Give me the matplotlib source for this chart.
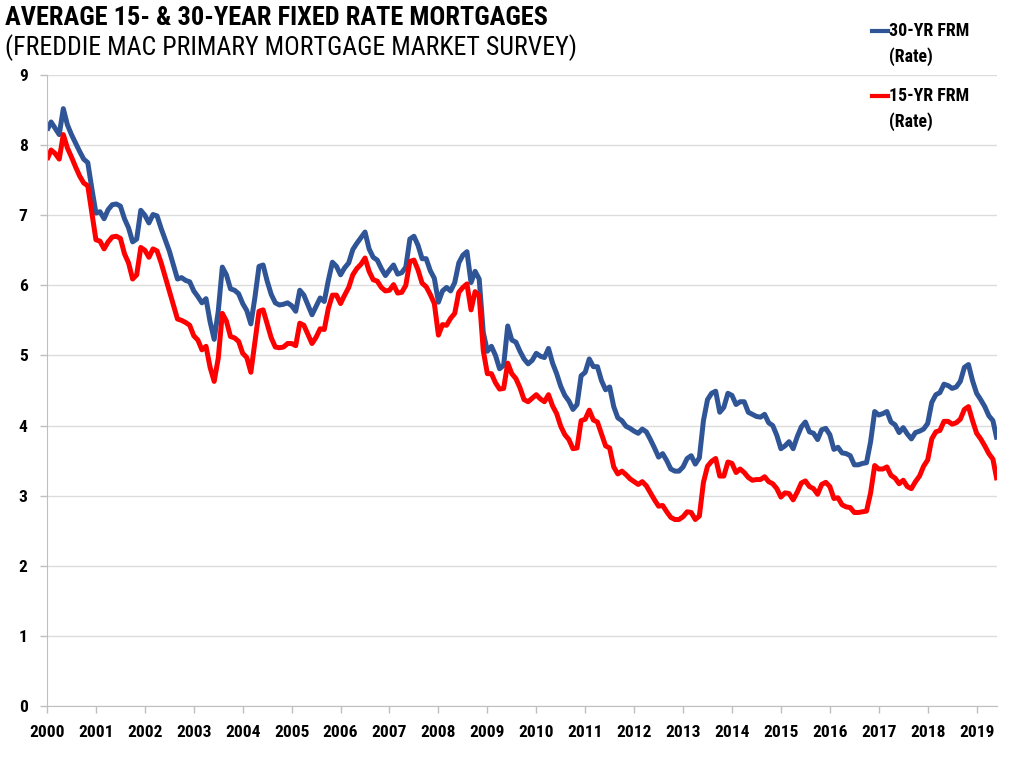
import matplotlib
matplotlib.use("Agg")
import matplotlib.pyplot as plt
from matplotlib import font_manager
import numpy as np

# ---------------- data (monthly averages, Jan 2000 - Jun 2019) ----------------
frm30 = [
    8.21, 8.33, 8.24, 8.15, 8.52, 8.29, 8.15, 8.03, 7.91, 7.80, 7.75, 7.38,   # 2000
    7.03, 7.05, 6.95, 7.08, 7.15, 7.16, 7.13, 6.95, 6.82, 6.62, 6.66, 7.07,   # 2001
    7.00, 6.89, 7.01, 6.99, 6.81, 6.65, 6.49, 6.29, 6.09, 6.11, 6.07, 6.05,   # 2002
    5.92, 5.84, 5.75, 5.81, 5.48, 5.23, 5.63, 6.26, 6.15, 5.95, 5.93, 5.88,   # 2003
    5.74, 5.64, 5.45, 5.83, 6.27, 6.29, 6.06, 5.87, 5.75, 5.72, 5.73, 5.75,   # 2004
    5.71, 5.63, 5.93, 5.86, 5.72, 5.58, 5.70, 5.82, 5.77, 6.07, 6.33, 6.27,   # 2005
    6.15, 6.25, 6.32, 6.51, 6.60, 6.68, 6.76, 6.52, 6.40, 6.36, 6.24, 6.14,   # 2006
    6.22, 6.29, 6.16, 6.18, 6.26, 6.66, 6.70, 6.57, 6.38, 6.38, 6.21, 6.10,   # 2007
    5.76, 5.92, 5.97, 5.92, 6.04, 6.32, 6.43, 6.48, 6.04, 6.20, 6.09, 5.33,   # 2008
    5.06, 5.13, 5.00, 4.81, 4.86, 5.42, 5.22, 5.19, 5.06, 4.95, 4.88, 4.93,   # 2009
    5.03, 4.99, 4.97, 5.10, 4.89, 4.74, 4.56, 4.43, 4.35, 4.23, 4.30, 4.71,   # 2010
    4.76, 4.95, 4.84, 4.84, 4.64, 4.51, 4.55, 4.27, 4.11, 4.07, 3.99, 3.96,   # 2011
    3.92, 3.89, 3.95, 3.91, 3.80, 3.68, 3.55, 3.60, 3.50, 3.38, 3.35, 3.35,   # 2012
    3.41, 3.53, 3.57, 3.45, 3.54, 4.07, 4.37, 4.46, 4.49, 4.19, 4.26, 4.46,   # 2013
    4.43, 4.30, 4.34, 4.34, 4.19, 4.16, 4.13, 4.12, 4.16, 4.04, 4.00, 3.86,   # 2014
    3.67, 3.71, 3.77, 3.67, 3.84, 3.98, 4.05, 3.91, 3.89, 3.80, 3.94, 3.96,   # 2015
    3.87, 3.66, 3.69, 3.61, 3.60, 3.57, 3.44, 3.44, 3.46, 3.47, 3.77, 4.20,   # 2016
    4.15, 4.17, 4.20, 4.05, 4.01, 3.90, 3.97, 3.88, 3.81, 3.90, 3.92, 3.95,   # 2017
    4.03, 4.33, 4.44, 4.47, 4.59, 4.57, 4.53, 4.55, 4.63, 4.83, 4.87, 4.64,   # 2018
    4.46, 4.37, 4.27, 4.14, 4.07, 3.80,                                       # 2019
]
frm15 = [
    7.79, 7.93, 7.88, 7.80, 8.15, 7.96, 7.83, 7.69, 7.56, 7.46, 7.42, 7.03,   # 2000
    6.65, 6.63, 6.52, 6.62, 6.69, 6.70, 6.67, 6.45, 6.32, 6.09, 6.15, 6.54,   # 2001
    6.50, 6.40, 6.52, 6.49, 6.32, 6.12, 5.92, 5.72, 5.52, 5.50, 5.47, 5.43,   # 2002
    5.28, 5.22, 5.08, 5.13, 4.83, 4.63, 4.96, 5.60, 5.49, 5.27, 5.25, 5.20,   # 2003
    5.03, 4.97, 4.76, 5.20, 5.63, 5.65, 5.45, 5.25, 5.12, 5.11, 5.12, 5.17,   # 2004
    5.17, 5.14, 5.46, 5.43, 5.30, 5.17, 5.26, 5.38, 5.37, 5.67, 5.86, 5.86,   # 2005
    5.74, 5.86, 5.97, 6.15, 6.24, 6.30, 6.39, 6.20, 6.08, 6.06, 5.97, 5.92,   # 2006
    5.93, 6.01, 5.89, 5.90, 6.00, 6.34, 6.36, 6.22, 6.03, 5.98, 5.87, 5.74,   # 2007
    5.29, 5.44, 5.43, 5.53, 5.60, 5.90, 5.97, 6.02, 5.65, 5.91, 5.85, 5.07,   # 2008
    4.74, 4.74, 4.61, 4.52, 4.53, 4.89, 4.74, 4.67, 4.54, 4.37, 4.34, 4.39,   # 2009
    4.44, 4.38, 4.34, 4.44, 4.28, 4.17, 3.99, 3.87, 3.80, 3.67, 3.68, 4.07,   # 2010
    4.09, 4.22, 4.08, 4.05, 3.88, 3.71, 3.68, 3.41, 3.31, 3.35, 3.30, 3.24,   # 2011
    3.20, 3.16, 3.20, 3.14, 3.04, 2.94, 2.85, 2.86, 2.77, 2.69, 2.66, 2.66,   # 2012
    2.70, 2.77, 2.76, 2.66, 2.71, 3.19, 3.42, 3.49, 3.53, 3.28, 3.28, 3.48,   # 2013
    3.46, 3.33, 3.38, 3.33, 3.26, 3.22, 3.23, 3.23, 3.27, 3.20, 3.17, 3.10,   # 2014
    2.98, 3.04, 3.03, 2.94, 3.05, 3.18, 3.21, 3.13, 3.10, 3.02, 3.16, 3.19,   # 2015
    3.13, 2.96, 2.97, 2.87, 2.84, 2.83, 2.76, 2.76, 2.77, 2.78, 3.04, 3.43,   # 2016
    3.38, 3.38, 3.41, 3.29, 3.25, 3.17, 3.22, 3.13, 3.10, 3.20, 3.28, 3.42,   # 2017
    3.51, 3.81, 3.91, 3.93, 4.06, 4.06, 4.02, 4.04, 4.09, 4.23, 4.27, 4.07,   # 2018
    3.89, 3.81, 3.71, 3.60, 3.52, 3.22,                                       # 2019
]
year_labels = [str(y) for y in range(2000, 2020)]
y_ticks = list(range(0, 10))
series_names = ["30-YR FRM", "15-YR FRM"]

# ---------------- style ----------------
avail = {f.name for f in font_manager.fontManager.ttflist}
main_font = "DejaVu Sans"
for cand in ["Roboto Condensed", "Open Sans Condensed", "Liberation Sans Narrow",
             "Arial Narrow", "Liberation Sans"]:
    if cand in avail:
        main_font = cand
        break
fam = [main_font, "DejaVu Sans"]

BLUE = "#2F5597"
RED = "#FF0000"
GRID = "#DCDCDC"
AXC = "#BFBFBF"
W, H = 1024, 761

fig = plt.figure(figsize=(W / 100, H / 100), dpi=100)
renderer = fig.canvas.get_renderer()


def fit_size(text, target_px, bold):
    t = fig.text(0, 0, text, fontfamily=fam, fontsize=10,
                 fontweight="bold" if bold else "normal")
    w = t.get_window_extent(renderer=renderer).width
    t.remove()
    return 10 * target_px / w


ax = fig.add_axes([47 / W, 55 / H, 950 / W, 631 / H])

x30 = 2000 + np.arange(len(frm30)) / 12.0
x15 = 2000 + np.arange(len(frm15)) / 12.0
ax.plot(x30, frm30, color=BLUE, lw=3.6, solid_joinstyle="round", solid_capstyle="butt")
ax.plot(x15, frm15, color=RED, lw=3.6, solid_joinstyle="round", solid_capstyle="butt")

tick_fs = fit_size("2000", 35, True)
ax.set_xlim(2000, x30[-1])
ax.set_ylim(0, 9)
ax.set_yticks(y_ticks)
ax.set_yticklabels([str(v) for v in y_ticks], fontfamily=fam, fontweight="bold", fontsize=tick_fs)
ax.set_xticks(np.arange(2000, 2020))
ax.set_xticklabels(year_labels, fontfamily=fam, fontweight="bold", fontsize=tick_fs)
ax.grid(axis="y", color=GRID, lw=1.0)
ax.set_axisbelow(True)
for s in ["top", "right"]:
    ax.spines[s].set_visible(False)
ax.spines["left"].set_color(AXC)
ax.spines["bottom"].set_color(AXC)
ax.tick_params(axis="both", colors=AXC, labelcolor="black", length=5, width=1)
ax.tick_params(axis="x", pad=9)
ax.tick_params(axis="y", pad=9)

# titles
t1 = "AVERAGE 15- & 30-YEAR FIXED RATE MORTGAGES"
t2 = "(FREDDIE MAC PRIMARY MORTGAGE MARKET SURVEY)"
fig.text(5 / W, 1 - 18 / H, t1, fontfamily=fam, fontweight="bold",
         fontsize=fit_size(t1, 542, True), va="center", ha="left")
fig.text(5 / W, 1 - 48 / H, t2, fontfamily=fam,
         fontsize=fit_size(t2, 572, False), va="center", ha="left")

# legend (manual entries)
leg_fs = fit_size("30-YR FRM", 80, True)
for (label, col, yy) in [(series_names[0], BLUE, 31), (series_names[1], RED, 96)]:
    fig.add_artist(plt.Line2D([872 / W, 888 / W], [1 - yy / H, 1 - yy / H],
                              color=col, lw=3.0, transform=fig.transFigure))
    fig.text(889 / W, 1 - yy / H, label, fontfamily=fam, fontweight="bold",
             fontsize=leg_fs, va="center", ha="left")
    fig.text(889 / W, 1 - (yy + 26) / H, "(Rate)", fontfamily=fam, fontweight="bold",
             fontsize=leg_fs, va="center", ha="left")

fig.savefig("out.png", dpi=100)
